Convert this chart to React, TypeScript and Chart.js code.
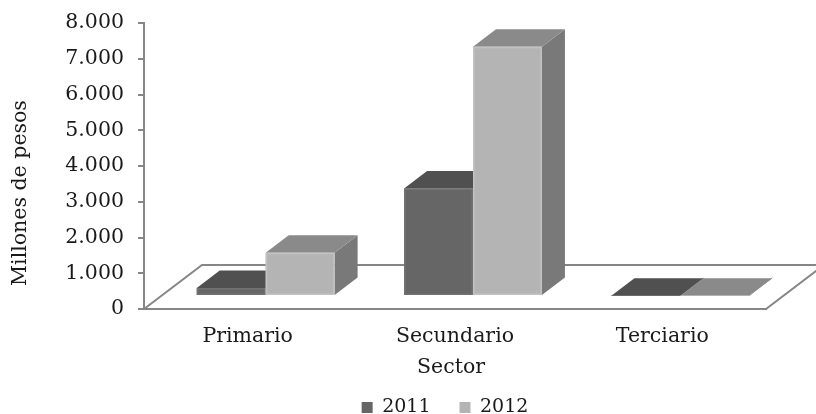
import React, { useEffect, useRef } from "react";
import { Chart, registerables } from "chart.js";

Chart.register(...registerables);

const categories = ["Primario", "Secundario", "Terciario"];
const years = ["2011", "2012"];
const values2011 = [225, 3005, 10];
const values2012 = [1208, 6970, 10];

const FONT = "'DejaVu Serif', serif";
const AXIS = "#868686";
const FRONT = ["#666666", "#b4b4b4"];
const EDGE = ["#727272", "#c2c2c2"];
const TOP = ["#505050", "#8a8a8a"];
const SIDE = ["#555555", "#797979"];

// projection of the 3D box: floor depth and bar depth, in canvas px
const FLOOR_DX = 58, FLOOR_DY = 44;
const BAR_DX = 23, BAR_DY = 17.5;
const SHIFT_X = 18, SHIFT_Y = 13;

function poly(ctx: CanvasRenderingContext2D, pts: number[][], fill: string) {
  ctx.beginPath();
  pts.forEach(([x, y], i) => (i ? ctx.lineTo(x, y) : ctx.moveTo(x, y)));
  ctx.closePath();
  ctx.fillStyle = fill;
  ctx.fill();
}

// nudges an axis title along its axis, keeping Chart.js's own title drawing
function shiftTitle(dx: number, dy: number) {
  return (s: any) => {
    if (s.__shifted) return;
    s.__shifted = true;
    const draw = s.drawTitle;
    s.drawTitle = function () {
      this.ctx.save();
      this.ctx.translate(dx, dy);
      draw.call(this);
      this.ctx.restore();
    };
  };
}

const box3d = {
  id: "box3d",
  afterLayout(chart: any) {
    chart.legend.left += 62;
    chart.legend.right += 62;
    chart.legend.top += 13;
    chart.legend.bottom += 13;
  },
  beforeDatasetsDraw(chart: any) {
    const ctx: CanvasRenderingContext2D = chart.ctx;
    const { left, right, bottom } = chart.chartArea;
    ctx.save();
    ctx.strokeStyle = AXIS;
    ctx.lineWidth = 2;
    ctx.beginPath();
    ctx.moveTo(left, bottom);
    ctx.lineTo(left + FLOOR_DX, bottom - FLOOR_DY);
    ctx.lineTo(right + FLOOR_DX, bottom - FLOOR_DY);
    ctx.lineTo(right, bottom);
    ctx.stroke();

    chart.data.datasets.forEach((_: any, di: number) => {
      chart.getDatasetMeta(di).data.forEach((bar: any) => {
        const { x, y, width, base } = bar.getProps(["x", "y", "width", "base"], true);
        const l = x - width / 2 + SHIFT_X;
        const r = x + width / 2 + SHIFT_X;
        const t = y - SHIFT_Y;
        const b = base - SHIFT_Y;
        poly(ctx, [[r, t], [r + BAR_DX, t - BAR_DY], [r + BAR_DX, b - BAR_DY], [r, b]], SIDE[di]);
        poly(ctx, [[l, t], [l + BAR_DX, t - BAR_DY], [r + BAR_DX, t - BAR_DY], [r, t]], TOP[di]);
        poly(ctx, [[l, t], [r, t], [r, b], [l, b]], FRONT[di]);
        if (b - t > 4) {
          ctx.strokeStyle = EDGE[di];
          ctx.lineWidth = 1.5;
          ctx.strokeRect(l + 0.75, t + 0.75, r - l - 1.5, b - t - 1.5);
        }
      });
    });
    ctx.restore();
    return false;
  },
};

export default function App() {
  const ref = useRef<HTMLCanvasElement>(null);
  useEffect(() => {
    const chart = new Chart(ref.current!, {
      type: "bar",
      data: {
        labels: categories,
        datasets: [
          { label: years[0], data: values2011, backgroundColor: FRONT[0], borderWidth: 0 },
          { label: years[1], data: values2012, backgroundColor: FRONT[1], borderWidth: 0 },
        ],
      },
      plugins: [box3d],
      options: {
        animation: false,
        responsive: false,
        layout: { padding: { top: 23, right: 50, left: 0, bottom: 0 } },
        color: "#000",
        font: { family: FONT, size: 20.5 },
        datasets: { bar: { categoryPercentage: 0.665, barPercentage: 1 } },
        plugins: {
          tooltip: { enabled: false },
          legend: {
            position: "bottom",
            labels: {
              font: { family: FONT, size: 19 },
              color: "#1a1a1a",
              boxWidth: 11,
              boxHeight: 11,
              padding: 29,
            },
          },
        },
        scales: {
          x: {
            grid: { display: false },
            border: { color: AXIS, width: 2 },
            ticks: { font: { family: FONT, size: 20.5 }, color: "#1a1a1a", maxRotation: 0, padding: 7 },
            title: { display: true, text: "Sector", color: "#1a1a1a", font: { family: FONT, size: 20.5 }, padding: { top: 6, bottom: 0 } },
            afterFit: (s: any) => { s.height = 47; },
            afterUpdate: shiftTitle(-4, 24),
          },
          y: {
            min: 0,
            max: 8000,
            grid: { drawOnChartArea: false, tickLength: 6, color: AXIS, lineWidth: 2 },
            border: { color: AXIS, width: 2 },
            ticks: {
              stepSize: 1000,
              color: "#1a1a1a",
              padding: 14,
              font: { family: FONT, size: 20.5 },
              callback: (v: any) => (v === 0 ? "0" : `${Math.floor(v / 1000)}.${String(v % 1000).padStart(3, "0")}`),
            },
            title: { display: true, text: "Millones de pesos", color: "#1a1a1a", font: { family: FONT, size: 20.5 }, padding: { top: 8, bottom: 0 } },
            afterFit: (s: any) => { s.width = 144; s.paddingTop = 0; s.paddingBottom = 0; },
            afterUpdate: shiftTitle(0, 27),
          },
        },
      },
    } as any);
    return () => chart.destroy();
  }, []);
  return (
    <div style={{ position: "absolute", left: 0, top: 0, width: 816, height: 414, background: "#fff" }}>
      <canvas ref={ref} width={816} height={414} style={{ display: "block", filter: "blur(0.5px)" }} />
    </div>
  );
}
